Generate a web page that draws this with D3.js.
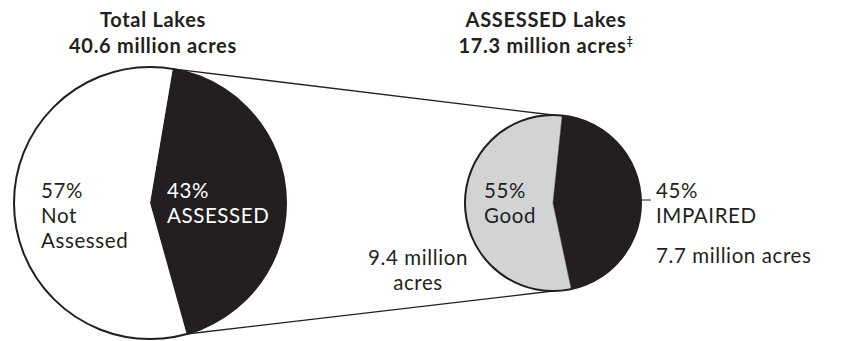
<!DOCTYPE html>
<html>
<head>
<meta charset="utf-8">
<script src="https://cdn.jsdelivr.net/npm/d3@7/dist/d3.min.js"></script>
<style>
  html, body { margin: 0; padding: 0; background: #fff; }
  svg { display: block; }
  text { font-family: Lato, "Open Sans", sans-serif; fill: #231f20; }
</style>
</head>
<body>
<svg id="chart" width="845" height="341"></svg>
<script>
// ---- data ----
const totalTitle = ["Total Lakes", "40.6 million acres"];
const assessedTitle = ["ASSESSED Lakes", "17.3 million acres"];
const totalCategories = ["ASSESSED", "Not Assessed"];
const totalShares = [43, 57];
const assessedCategories = ["IMPAIRED", "Good"];
const assessedShares = [45, 55];
const assessedAcres = ["7.7 million acres", "9.4 million acres"];

const svg = d3.select("#chart");
const ink = "#231f20";
const fills = { "ASSESSED": ink, "Not Assessed": "#ffffff", "IMPAIRED": ink, "Good": "#d1d3d4" };

const deg = Math.PI / 180;
function makePie(shares) {
  const first = shares[0] / 100 * 360;
  const start = (87 - first / 2) * deg;
  return d3.pie().sort(null).startAngle(start).endAngle(start + 2 * Math.PI)(shares);
}

const left = { cx: 150, cy: 203, r: 136 };
const right = { cx: 553, cy: 203, r: 88 };

function pt(c, a) { return [c.cx + c.r * Math.sin(a), c.cy - c.r * Math.cos(a)]; }

const leftArcs = makePie(totalShares);
const rightArcs = makePie(assessedShares);

// connector lines
const lt = pt(left, leftArcs[0].startAngle), lb = pt(left, leftArcs[0].endAngle);
const rt = [right.cx, right.cy - right.r], rb = [right.cx, right.cy + right.r];
svg.append("line").attr("x1", lt[0]).attr("y1", lt[1]).attr("x2", rt[0]).attr("y2", rt[1])
  .attr("stroke", ink).attr("stroke-width", 1.3);
svg.append("line").attr("x1", lb[0]).attr("y1", lb[1]).attr("x2", rb[0]).attr("y2", rb[1])
  .attr("stroke", ink).attr("stroke-width", 1.3);

function drawPie(c, arcs, cats) {
  const g = svg.append("g").attr("transform", `translate(${c.cx},${c.cy})`);
  const arc = d3.arc().innerRadius(0).outerRadius(c.r);
  g.selectAll("path").data(arcs).join("path")
    .attr("d", arc)
    .attr("fill", (d, i) => fills[cats[i]])
    .attr("stroke", (d, i) => fills[cats[i]] === "#ffffff" ? "none" : ink)
    .attr("stroke-width", 0.5);
  g.append("circle").attr("r", c.r).attr("fill", "none").attr("stroke", ink).attr("stroke-width", 2);
}
drawPie(left, leftArcs, totalCategories);
drawPie(right, rightArcs, assessedCategories);

// tick from impaired slice
svg.append("line").attr("x1", right.cx + right.r).attr("y1", 200).attr("x2", right.cx + right.r + 10).attr("y2", 200)
  .attr("stroke", ink).attr("stroke-width", 1);

// titles
function title(x, lines, sup) {
  lines.forEach((l, i) => {
    const t = svg.append("text").attr("text-anchor", "middle").attr("font-weight", "bold")
      .attr("font-size", 20).attr("letter-spacing", 0.7).attr("x", x).attr("y", 27 + i * 25.5);
    t.append("tspan").text(l);
    if (sup && i === lines.length - 1) t.append("tspan").attr("font-size", 11).attr("dy", -8).text(sup);
  });
}
title(153, totalTitle);
title(546, assessedTitle, "\u2021");

function label(x, y0, lines, color, anchor) {
  lines.forEach((l, i) => {
    const t = svg.append("text").attr("font-size", 20.5).attr("letter-spacing", 0.6)
      .attr("text-anchor", anchor || "start")
      .attr("x", x).attr("y", y0 + i * 25).text(l);
    if (color) t.style("fill", color);
  });
}
label(41, 198, [totalShares[1] + "%", "Not", "Assessed"]);
label(167, 198, [totalShares[0] + "%", totalCategories[0]], "#ffffff");
label(484, 198, [assessedShares[1] + "%", assessedCategories[1]]);
label(656, 198, [assessedShares[0] + "%", assessedCategories[0]]);
label(656, 263, [assessedAcres[0]]);
const parts = assessedAcres[1].split(" ");
label(418, 265, [parts[0] + " " + parts[1], parts[2]], null, "middle");
</script>
</body>
</html>
